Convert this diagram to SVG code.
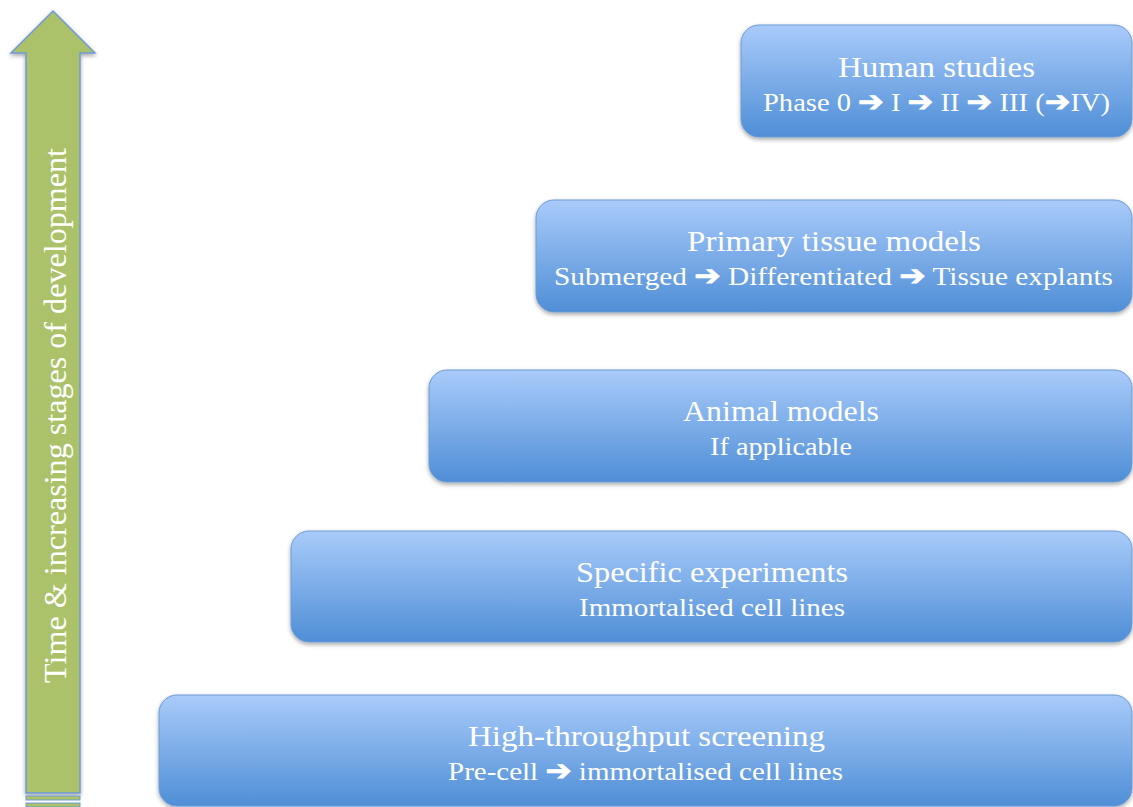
<svg xmlns="http://www.w3.org/2000/svg" width="1133" height="807" viewBox="0 0 1133 807">
<style>
.box{fill:url(#bg);stroke:#6c9bd6;stroke-width:1}
.t1{font-family:"Liberation Serif",serif;font-size:30px;fill:#ffffff;text-anchor:middle}
.t2{font-family:"Liberation Serif",serif;font-size:26px;fill:#ffffff;text-anchor:middle}
.ar{font-family:"DejaVu Sans",sans-serif;font-weight:bold;font-size:28px;stroke:#ffffff;stroke-width:0.8}
.vt{font-family:"Liberation Serif",serif;font-size:31px;fill:#ffffff;text-anchor:middle}
</style>
<defs>
<linearGradient id="bg" x1="0" y1="0" x2="0" y2="1">
<stop offset="0" stop-color="#a9cbfa"/>
<stop offset="1" stop-color="#4f8ed6"/>
</linearGradient>
<filter id="sh" x="-5%" y="-10%" width="110%" height="130%">
<feDropShadow dx="0" dy="2" stdDeviation="2" flood-color="#000" flood-opacity="0.35"/>
</filter>
</defs>
<g id="timeline-arrow">
<path d="M53,11 L95,53 L80,53 L80,793 L26,793 L26,53 L11,53 Z" fill="#acc26a" stroke="#6c9bd6" stroke-width="1.5" filter="url(#sh)"/>
<rect x="26" y="796" width="54" height="4" fill="#acc26a" stroke="#6c9bd6" stroke-width="1"/>
<rect x="26" y="803" width="54" height="4" fill="#acc26a" stroke="#6c9bd6" stroke-width="1"/>
<text class="vt" transform="translate(66,415.5) rotate(-90)" textLength="535" lengthAdjust="spacingAndGlyphs">Time &amp; increasing stages of development</text>
</g>
<g id="human-studies">
<rect class="box" x="741" y="25" width="391" height="112" rx="18" filter="url(#sh)"/>
<text class="t1" x="936.5" y="77" textLength="197" lengthAdjust="spacingAndGlyphs">Human studies</text>
<text class="t2" x="936.5" y="111" textLength="347" lengthAdjust="spacingAndGlyphs">Phase 0 <tspan class="ar">➔</tspan> I <tspan class="ar">➔</tspan> II <tspan class="ar">➔</tspan> III (<tspan class="ar">➔</tspan>IV)</text>
</g>
<g id="primary-tissue">
<rect class="box" x="536" y="200" width="596" height="112" rx="18" filter="url(#sh)"/>
<text class="t1" x="834" y="251" textLength="294" lengthAdjust="spacingAndGlyphs">Primary tissue models</text>
<text class="t2" x="833.5" y="285" textLength="559" lengthAdjust="spacingAndGlyphs">Submerged <tspan class="ar">➔</tspan> Differentiated <tspan class="ar">➔</tspan> Tissue explants</text>
</g>
<g id="animal-models">
<rect class="box" x="429" y="370" width="703" height="112" rx="18" filter="url(#sh)"/>
<text class="t1" x="781" y="421" textLength="196" lengthAdjust="spacingAndGlyphs">Animal models</text>
<text class="t2" x="781" y="455" textLength="142" lengthAdjust="spacingAndGlyphs">If applicable</text>
</g>
<g id="specific-experiments">
<rect class="box" x="291" y="531" width="841" height="111" rx="18" filter="url(#sh)"/>
<text class="t1" x="712" y="582" textLength="272" lengthAdjust="spacingAndGlyphs">Specific experiments</text>
<text class="t2" x="712" y="616" textLength="266" lengthAdjust="spacingAndGlyphs">Immortalised cell lines</text>
</g>
<g id="high-throughput">
<rect class="box" x="159" y="695" width="973" height="111" rx="18" filter="url(#sh)"/>
<text class="t1" x="646.5" y="746" textLength="357" lengthAdjust="spacingAndGlyphs">High-throughput screening</text>
<text class="t2" x="645.5" y="780" textLength="395" lengthAdjust="spacingAndGlyphs">Pre-cell <tspan class="ar">➔</tspan> immortalised cell lines</text>
</g>
<g id="connectors"></g>
</svg>
